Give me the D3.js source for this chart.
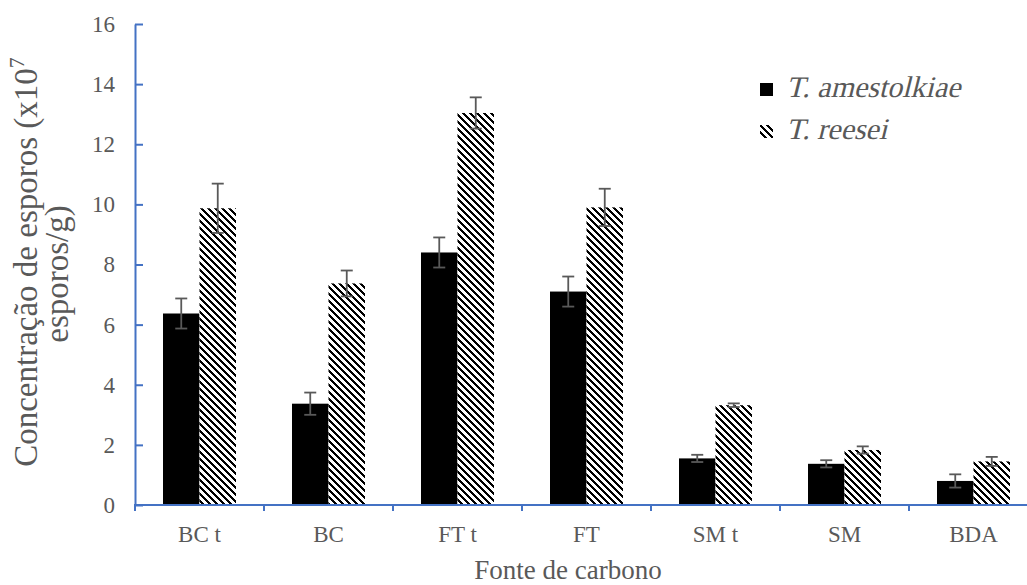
<!DOCTYPE html>
<html>
<head>
<meta charset="utf-8">
<script src="https://cdn.jsdelivr.net/npm/d3@7"></script>
<style>
  body { margin: 0; background: #fff; }
  text { font-family: "Liberation Serif", "Times New Roman", serif; fill: #595959; }
</style>
</head>
<body>
<svg id="chart" width="1027" height="585"></svg>
<script>
// data
var categories = ["BC t", "BC", "FT t", "FT", "SM t", "SM", "BDA"];
var seriesNames = ["T. amestolkiae", "T. reesei"];
var amestolkiae = [6.37, 3.37, 8.40, 7.10, 1.55, 1.37, 0.80];
var amestolkiaeErr = [0.50, 0.37, 0.50, 0.50, 0.12, 0.12, 0.22];
var reesei = [9.87, 7.37, 13.04, 9.90, 3.32, 1.83, 1.45];
var reeseiErr = [0.82, 0.43, 0.52, 0.62, 0.06, 0.12, 0.15];
var yTicks = [0, 2, 4, 6, 8, 10, 12, 14, 16];

var axisColor = "#4472C4";
var serif = "Liberation Serif";
var svg = d3.select("#chart");

// hatch pattern (wide downward diagonal)
var P = 7;
var defs = svg.append("defs");
var pat = defs.append("pattern")
    .attr("id", "hatch")
    .attr("patternUnits", "userSpaceOnUse")
    .attr("width", P).attr("height", P);
pat.append("rect").attr("width", P).attr("height", P).attr("fill", "#fff");
pat.append("path")
    .attr("d", "M" + (-P) + ",0 L" + P + "," + (2 * P) + " M0,0 L" + (2 * P) + "," + (2 * P) +
               " M0," + (-P) + " L" + (2 * P) + "," + P + " M" + (-P) + "," + (-P) + " L" + (2 * P) + "," + (2 * P))
    .attr("stroke", "#000")
    .attr("stroke-width", 2.7)
    .attr("shape-rendering", "crispEdges");

var x0 = d3.scaleBand()
    .domain(categories)
    .range([135, 1038]);

var barW = 36.5;
var xs = d3.scaleBand()
    .domain(seriesNames)
    .range([x0.bandwidth() / 2 - barW, x0.bandwidth() / 2 + barW]);

var y = d3.scaleLinear()
    .domain([0, 16])
    .range([505, 24]);

// rows for drawing
var rows = [];
categories.forEach(function(c, i) {
    rows.push({cat: c, s: seriesNames[0], v: amestolkiae[i], e: amestolkiaeErr[i]});
    rows.push({cat: c, s: seriesNames[1], v: reesei[i], e: reeseiErr[i]});
});

function fillOf(s) { return s == seriesNames[0] ? "#000" : "url(#hatch)"; }

// bars
svg.append("g").selectAll("rect")
    .data(rows)
    .enter().append("rect")
    .attr("x", function(d) { return x0(d.cat) + xs(d.s); })
    .attr("y", function(d) { return y(d.v); })
    .attr("width", xs.bandwidth())
    .attr("height", function(d) { return y(0) - y(d.v); })
    .attr("fill", function(d) { return fillOf(d.s); });

// error bars
var eg = svg.append("g").attr("stroke", "#595959").attr("stroke-width", 1.8);
rows.forEach(function(d) {
    var cx = x0(d.cat) + xs(d.s) + xs.bandwidth() / 2;
    eg.append("line")
        .attr("x1", cx).attr("x2", cx)
        .attr("y1", y(d.v + d.e)).attr("y2", y(d.v - d.e));
    eg.append("line")
        .attr("x1", cx - 6).attr("x2", cx + 6)
        .attr("y1", y(d.v + d.e)).attr("y2", y(d.v + d.e));
    eg.append("line")
        .attr("x1", cx - 6).attr("x2", cx + 6)
        .attr("y1", y(d.v - d.e)).attr("y2", y(d.v - d.e));
});

// y axis
var yAxis = svg.append("g")
    .attr("transform", "translate(135,0)")
    .call(d3.axisLeft(y).tickValues(yTicks).tickSizeInner(-8).tickSizeOuter(0).tickPadding(20));
yAxis.select(".domain").attr("stroke", axisColor).attr("stroke-width", 2);
yAxis.selectAll(".tick line").attr("stroke", axisColor).attr("stroke-width", 2);
yAxis.selectAll(".tick text")
    .style("font-family", serif)
    .style("font-size", "23px")
    .attr("fill", "#595959");

// x axis: line, boundary ticks, centred labels
var xg = svg.append("g").attr("transform", "translate(0,505)");
xg.append("line")
    .attr("x1", 134).attr("x2", 1027)
    .attr("stroke", axisColor).attr("stroke-width", 2);
categories.concat(["end"]).forEach(function(c, i) {
    var bx = i < categories.length ? x0(c) : x0.range()[1];
    xg.append("line")
        .attr("x1", bx).attr("x2", bx)
        .attr("y1", 0).attr("y2", 6)
        .attr("stroke", axisColor).attr("stroke-width", 2);
});
xg.selectAll(".xlab")
    .data(categories)
    .enter().append("text")
    .attr("class", "xlab")
    .attr("x", function(d) { return x0(d) + x0.bandwidth() / 2; })
    .attr("y", 37)
    .attr("text-anchor", "middle")
    .style("font-family", serif)
    .style("font-size", "23px")
    .text(function(d) { return d; });

// axis titles
svg.append("text")
    .attr("x", 568).attr("y", 579)
    .attr("text-anchor", "middle")
    .style("font-family", serif)
    .style("font-size", "27px")
    .text("Fonte de carbono");

var yt = svg.append("text")
    .attr("transform", "translate(37,262) rotate(-90)")
    .attr("text-anchor", "middle")
    .style("font-family", serif)
    .style("font-size", "33px");
yt.append("tspan").attr("x", 0).attr("y", 0).text("Concentração de esporos (x10");
yt.append("tspan").attr("dy", -13).style("font-size", "22px").text("7");
yt.append("tspan").attr("x", -12).attr("y", 31).text("esporos/g)");

// legend (italic faked with a skew, upright serif face)
var legend = svg.append("g").attr("transform", "translate(760,83)");
seriesNames.forEach(function(s, i) {
    var g = legend.append("g").attr("transform", "translate(0," + (i * 42) + ")");
    g.append("rect")
        .attr("width", 13).attr("height", 13)
        .attr("fill", fillOf(s));
    g.append("text")
        .attr("transform", "translate(26,14) skewX(-14)")
        .style("font-family", serif)
        .style("font-size", "30px")
        .text(s);
});
</script>
</body>
</html>
